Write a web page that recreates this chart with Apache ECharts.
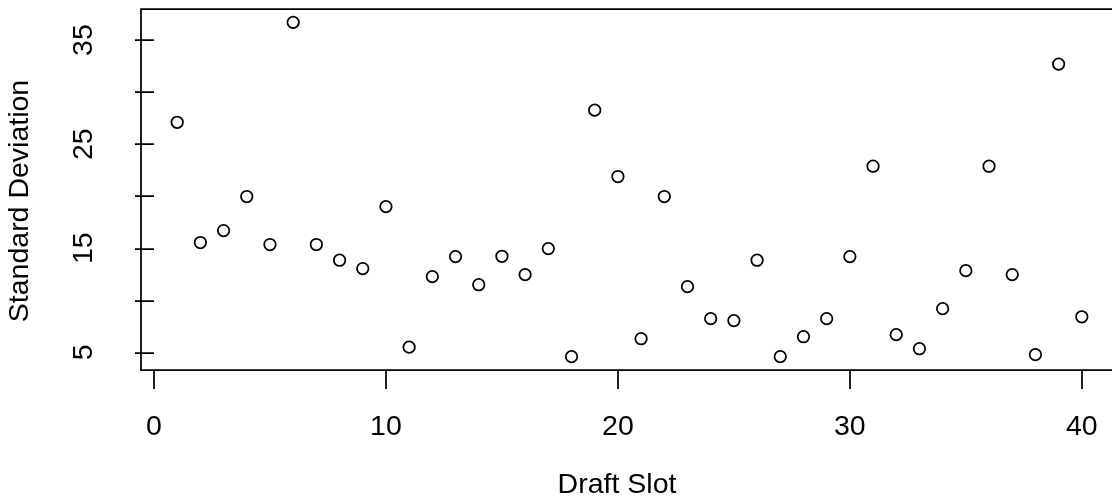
<!DOCTYPE html>
<html>
<head>
<meta charset="utf-8">
<script src="https://cdn.jsdelivr.net/npm/echarts@6/dist/echarts.min.js"></script>
<style>
  html, body { margin: 0; padding: 0; background: #fff; overflow: hidden; }
  #myChart { width: 1130px; height: 502px; }
</style>
</head>
<body>
<div id="myChart"></div>
<script>
// draft slot on x, standard deviation on y
const draftSlots = [
  1, 2, 3, 4, 5, 6, 7, 8, 9, 10,
  11, 12, 13, 14, 15, 16, 17, 18, 19, 20,
  21, 22, 23, 24, 25, 26, 27, 28, 29, 30,
  31, 32, 33, 34, 35, 36, 37, 38, 39, 40
];
const stdDevs = [
  27.1, 15.55, 16.7, 19.97, 15.36, 36.7, 15.36, 13.85, 13.05, 19.0,
  5.5, 12.28, 14.2, 11.5, 14.23, 12.47, 14.97, 4.59, 28.27, 21.89,
  6.31, 19.97, 11.31, 8.24, 8.05, 13.85, 4.59, 6.5, 8.24, 14.2,
  22.88, 6.7, 5.35, 9.2, 12.85, 22.88, 12.47, 4.78, 32.69, 8.42
];
const xTicks = [0, 10, 20, 30, 40];
const yTicks = [5, 10, 15, 20, 25, 30, 35];
const yLabels = [5, 15, 25, 35];

// R style axis range: data range widened by 4% each side
function pad(arr) {
  const lo = Math.min(...arr), hi = Math.max(...arr);
  const d = (hi - lo) * 0.04;
  return [lo - d, hi + d];
}
const xr = pad(draftSlots);
const yr = pad(stdDevs);

const font = "'Liberation Sans', Arial, sans-serif";
const ink = "#000";

let chart = echarts.init(document.getElementById("myChart"));
let option = {
  animation: false,
  backgroundColor: "#fff",
  grid: {
    left: 141,
    top: 9,
    width: 977,
    height: 361,
    show: true,
    borderColor: ink,
    borderWidth: 1.75,
    backgroundColor: "transparent",
  },
  xAxis: {
    type: "value",
    min: xr[0],
    max: xr[1],
    axisLine: { show: false },
    splitLine: { show: false },
    axisTick: {
      show: true,
      inside: false,
      length: 19,
      customValues: xTicks,
      lineStyle: { color: ink, width: 1.75 },
    },
    axisLabel: {
      customValues: xTicks,
      margin: 43,
      color: ink,
      fontSize: 28.5,
      fontFamily: font,
    },
  },
  yAxis: {
    type: "value",
    min: yr[0],
    max: yr[1],
    axisLine: { show: false },
    splitLine: { show: false },
    axisTick: {
      show: true,
      inside: false,
      length: 19,
      customValues: yTicks,
      lineStyle: { color: ink, width: 1.75 },
    },
    axisLabel: {
      customValues: yLabels,
      rotate: 90,
      margin: 42,
      color: ink,
      fontSize: 28.5,
      fontFamily: font,
    },
  },
  graphic: [
    {
      type: "text",
      x: 617,
      y: 485,
      style: {
        text: "Draft Slot",
        fill: ink,
        font: "28.5px " + font,
        textAlign: "center",
        textVerticalAlign: "middle",
      },
    },
    {
      type: "text",
      x: 20,
      y: 201,
      rotation: Math.PI / 2,
      style: {
        text: "Standard Deviation",
        fill: ink,
        font: "28.5px " + font,
        textAlign: "center",
        textVerticalAlign: "middle",
      },
    },
  ],
  series: [
    {
      type: "scatter",
      data: draftSlots.map((s, i) => [s, stdDevs[i]]),
      symbol: "circle",
      symbolSize: 11.5,
      itemStyle: {
        color: "transparent",
        borderColor: ink,
        borderWidth: 1.75,
        opacity: 1,
      },
    },
  ],
};
chart.setOption(option);
</script>
</body>
</html>
